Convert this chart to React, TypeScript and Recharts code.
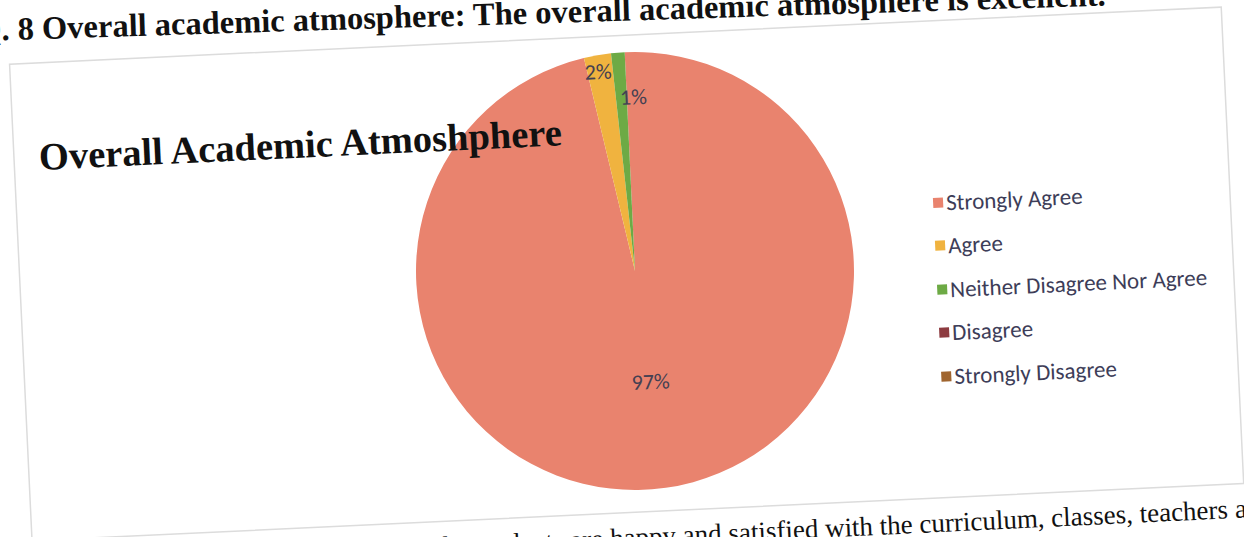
import React from 'react';
import { Legend, Pie, PieChart } from 'recharts';

const categories = [
  'Strongly Agree',
  'Agree',
  'Neither Disagree Nor Agree',
  'Disagree',
  'Strongly Disagree',
];
const shares = [97, 2, 1, 0, 0];
const sliceColors = ['#E9836E', '#F0B33F', '#6DAA45', '#8D3B40', '#A0652F'];

const pageHeading =
  'Q. 8 Overall academic atmosphere: The overall academic atmosphere is excellent.';
const chartTitle = 'Overall Academic Atmoshphere';
const bodyLead =
  'It is observed that 97% of the students are happy and satisfied with the curriculum, classes, teachers';
const bodyTail = 'and the overall academic atmosphere.';

const data = categories.map((name, i) => ({
  name,
  value: shares[i],
  fill: sliceColors[i],
}));

const RADIAN = Math.PI / 180;
// distance of each data label from the centre, as a share of the radius
const labelReach = [0.51, 0.925, 0.795, 0.8, 0.8];
const labelNudge = [0, -2, 12, 0, 0];

const sans = 'Carlito, Lato, "Open Sans", sans-serif';
const serif = '"Liberation Serif", "Times New Roman", serif';

function SliceLabel(props: any) {
  const { cx, cy, midAngle, outerRadius, index, value } = props;
  if (!value) return null;
  const r = outerRadius * labelReach[index];
  const x = cx + r * Math.cos(-midAngle * RADIAN) + labelNudge[index];
  const y = cy + r * Math.sin(-midAngle * RADIAN);
  return (
    <text
      x={x}
      y={y}
      textAnchor="middle"
      dominantBaseline="central"
      fill="#444052"
      fontFamily={sans}
      fontSize={22}
    >
      {value}%
    </text>
  );
}

function LegendList() {
  return (
    <div style={{ fontFamily: sans, fontSize: 23, color: '#3d3d58' }}>
      {data.map((d) => (
        <div
          key={d.name}
          style={{ height: 43.5, display: 'flex', alignItems: 'center', whiteSpace: 'nowrap' }}
        >
          <span
            style={{ width: 10, height: 10, background: d.fill, marginRight: 3, flex: 'none' }}
          />
          {d.name}
        </div>
      ))}
    </div>
  );
}

export default function App() {
  return (
    <div style={{ position: 'relative', width: 1244, height: 537, overflow: 'hidden', background: '#fff' }}>
      <style>{'body{margin:0}'}</style>
      <div
        style={{
          position: 'absolute',
          left: 0,
          top: 0,
          width: 1244,
          height: 600,
          transform: 'rotate(-2.7deg)',
          transformOrigin: '635px 271px',
        }}
      >
        <svg width={1244} height={600} style={{ position: 'absolute', left: 0, top: 0 }}>
          <rect x={20} y={35} width={1213} height={477} fill="#fff" stroke="#dcdcdc" strokeWidth={1.5} />
        </svg>
        <div style={{ position: 'absolute', left: 0, top: 0 }}>
          <PieChart width={1244} height={560} margin={{ top: 0, right: 0, bottom: 0, left: 0 }}>
            <Pie
              data={data}
              dataKey="value"
              nameKey="name"
              cx={635}
              cy={271}
              outerRadius={219}
              startAngle={90}
              endAngle={-270}
              stroke="none"
              label={SliceLabel}
              labelLine={false}
              isAnimationActive={false}
            />
            <Legend
              layout="vertical"
              content={() => <LegendList />}
              wrapperStyle={{ left: 936, top: 195, width: 310 }}
            />
          </PieChart>
        </div>
        <svg
          width={1244}
          height={600}
          style={{ position: 'absolute', left: 0, top: 0, pointerEvents: 'none', overflow: 'visible' }}
        >
          {/* the scanned heading sits a little flatter than the rest of the page */}
          <text
            x={-12}
            y={11}
            transform="rotate(0.9 37 11)"
            fontFamily={serif}
            fontWeight="bold"
            fontSize={32.5}
            fill="#111"
          >
            {pageHeading}
          </text>
          <text x={45} y={142} fontFamily={serif} fontWeight="bold" fontSize={38.5} fill="#111">
            {chartTitle}
          </text>
          <text x={1216} y={546} textAnchor="end" fontFamily={serif} fontSize={27} fill="#111">
            {bodyLead}
          </text>
          <text x={1223} y={546} fontFamily={serif} fontSize={27} fill="#111">
            {bodyTail}
          </text>
        </svg>
      </div>
    </div>
  );
}
